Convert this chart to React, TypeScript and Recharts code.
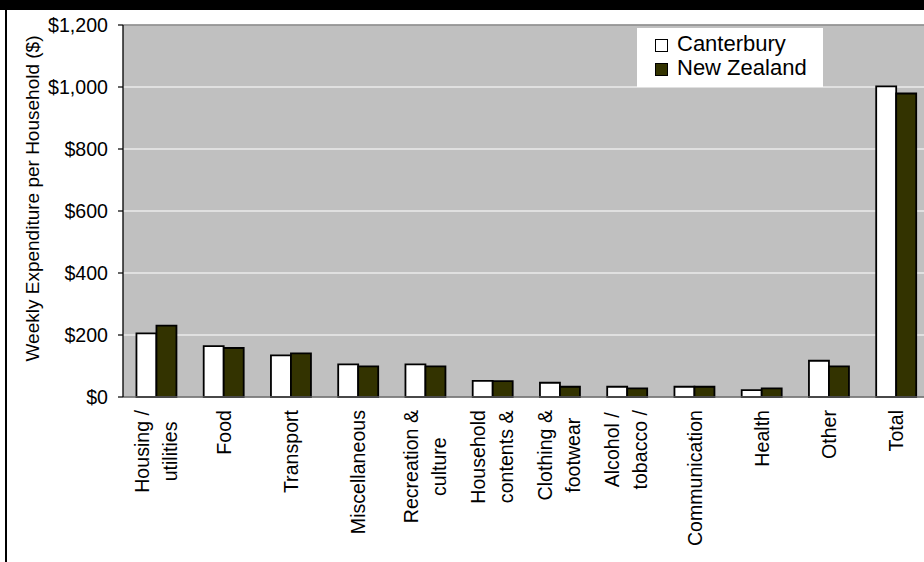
import React from "react";
import { BarChart, Bar, XAxis, YAxis, CartesianGrid, ReferenceLine, Legend, Label } from "recharts";

const categories = [
  "Housing / utilities",
  "Food",
  "Transport",
  "Miscellaneous",
  "Recreation & culture",
  "Household contents &",
  "Clothing & footwear",
  "Alcohol / tobacco /",
  "Communication",
  "Health",
  "Other",
  "Total",
];
const tickLabelLines = [
  ["Housing /", "utilities"],
  ["Food"],
  ["Transport"],
  ["Miscellaneous"],
  ["Recreation &", "culture"],
  ["Household", "contents &"],
  ["Clothing &", "footwear"],
  ["Alcohol /", "tobacco /"],
  ["Communication"],
  ["Health"],
  ["Other"],
  ["Total"],
];
const canterbury = [205, 164, 134, 105, 105, 52, 46, 33, 33, 22, 117, 1002];
const newZealand = [230, 158, 141, 99, 99, 51, 33, 28, 33, 28, 99, 979];
const yTicks = [0, 200, 400, 600, 800, 1000, 1200];
const seriesNames = ["Canterbury", "New Zealand"];
const yLabel = "Weekly Expenditure per Household ($)";

const data = categories.map((name, i) => ({
  name,
  canterbury: canterbury[i],
  newZealand: newZealand[i],
}));

const FONT = '"Liberation Sans", Arial, sans-serif';
const TICK_FS = 19.6;

let ctx: CanvasRenderingContext2D | null = null;
function measure(s: string): number {
  if (!ctx) {
    const c = document.createElement("canvas");
    ctx = c.getContext("2d");
  }
  if (!ctx) return s.length * TICK_FS * 0.5;
  ctx.font = `${TICK_FS}px "Liberation Sans"`;
  return ctx.measureText(s).width;
}

function XTick(props: any) {
  const { x, y, payload } = props;
  const lines = tickLabelLines[payload.index] || [String(payload.value)];
  const maxW = Math.max(...lines.map(measure));
  const cy = y + maxW / 2;
  const offsets = lines.length === 1 ? [7] : [-8, 20];
  return (
    <g>
      {lines.map((l: string, i: number) => (
        <text
          key={i}
          transform={`translate(${x + offsets[i]},${cy}) rotate(-90)`}
          textAnchor="middle"
          fontSize={TICK_FS}
          fontFamily={FONT}
          fill="#000"
        >
          {l}
        </text>
      ))}
    </g>
  );
}

function LegendBox() {
  const colors = ["#ffffff", "#333300"];
  return (
    <div
      style={{
        position: "relative",
        width: 186,
        height: 59,
        background: "#fff",
        fontFamily: FONT,
        fontSize: 22,
        color: "#000",
      }}
    >
      {seriesNames.map((n, i) => (
        <div key={n} style={{ position: "absolute", left: 0, top: 4 + i * 24, height: 24, width: 186 }}>
          <div
            style={{
              position: "absolute",
              left: 18,
              top: 7,
              width: 11,
              height: 11,
              background: colors[i],
              border: "1px solid #000",
            }}
          />
          <div style={{ position: "absolute", left: 40, top: 0, lineHeight: "24px", whiteSpace: "nowrap" }}>{n}</div>
        </div>
      ))}
    </div>
  );
}

export default function App() {
  return (
    <div
      style={{
        position: "absolute",
        left: 0,
        top: 0,
        width: 924,
        height: 562,
        overflow: "hidden",
        background: "#fff",
      }}
    >
      <div style={{ position: "absolute", left: 0, top: 0 }}>
        <BarChart
          width={940}
          height={562}
          data={data}
          margin={{ top: 25, right: 10, bottom: 0, left: 0 }}
          barCategoryGap="20%"
          barGap={0}
        >
          <CartesianGrid horizontal vertical={false} fill="#c0c0c0" stroke="#ffffff" strokeWidth={1.2} />
          <XAxis
            dataKey="name"
            interval={0}
            height={165}
            tickLine={false}
            tickSize={0}
            tickMargin={13}
            axisLine={{ stroke: "#606060", strokeWidth: 1.3 }}
            tick={<XTick />}
          />
          <YAxis
            width={123}
            domain={[0, 1200]}
            ticks={yTicks}
            interval={0}
            tickSize={5}
            tickMargin={10}
            tickLine={{ stroke: "#000", strokeWidth: 1.2 }}
            axisLine={{ stroke: "#000", strokeWidth: 1.3 }}
            tick={{ fill: "#000", fontSize: TICK_FS, fontFamily: FONT }}
            tickFormatter={(v: number) => "$" + v.toLocaleString("en-US")}
          >
            <Label
              content={() => (
                <text
                  transform="translate(38.5,198.5) rotate(-90)"
                  textAnchor="middle"
                  fontSize={19}
                  fontFamily={FONT}
                  fill="#000"
                >
                  {yLabel}
                </text>
              )}
            />
          </YAxis>
          <ReferenceLine y={1200} stroke="#808080" strokeWidth={1.5} />
          <Legend
            layout="horizontal"
            verticalAlign="middle"
            align="center"
            content={() => <LegendBox />}
            wrapperStyle={{ position: "absolute", left: 637, top: 28, width: 186, height: 59 }}
          />
          <Bar
            dataKey="canterbury"
            name={seriesNames[0]}
            fill="#ffffff"
            stroke="#000"
            strokeWidth={1.8}
            isAnimationActive={false}
          />
          <Bar
            dataKey="newZealand"
            name={seriesNames[1]}
            fill="#333300"
            stroke="#000"
            strokeWidth={1.8}
            isAnimationActive={false}
          />
        </BarChart>
      </div>
      <div style={{ position: "absolute", left: 0, top: 0, width: 924, height: 10, background: "#000" }} />
      <div style={{ position: "absolute", left: 5, top: 0, width: 2, height: 562, background: "#000" }} />
    </div>
  );
}
